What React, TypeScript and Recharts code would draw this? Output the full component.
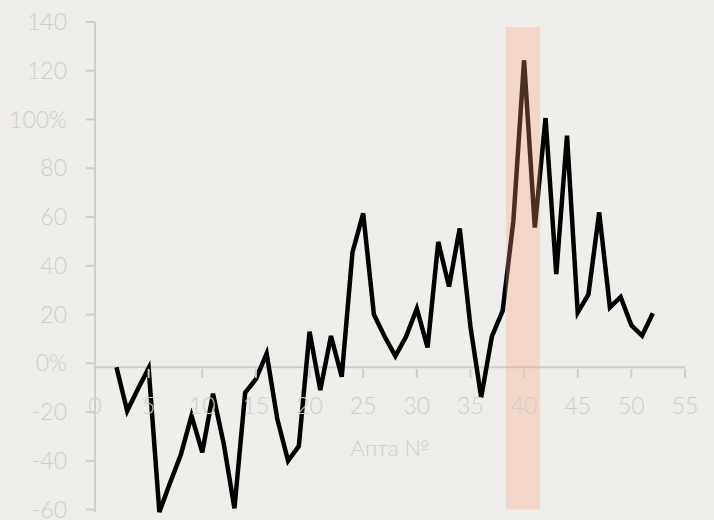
import { LineChart, Line, XAxis, YAxis, ReferenceArea, ReferenceLine } from 'recharts'

const weeks = [
  2, 3, 4, 5, 6, 7, 8, 9, 10, 11, 12, 13, 14, 15, 16, 17, 18, 19, 20, 21, 22, 23, 24, 25, 26,
  27, 28, 29, 30, 31, 32, 33, 34, 35, 36, 37, 38, 39, 40, 41, 42, 43, 44, 45, 46, 47, 48, 49,
  50, 51, 52,
]
const change = [
  -1.6, -19.5, -10.5, -2, -61, -49, -37.5, -21.5, -36.5, -12.5, -33, -59.5, -12, -6.5, 4, -23,
  -40, -34, 13, -11, 11.2, -5.5, 45.5, 61.5, 20, 11, 3, 11, 22.4, 6.5, 49.8, 31.5, 55.3, 15, -14,
  11, 21.5, 58.4, 124.3, 55.7, 100.6, 36.6, 93.4, 20.8, 28.3, 61.9, 22.9, 27.2, 15.6, 11.3, 20.5,
]
const xTicks = [0, 5, 10, 15, 20, 25, 30, 35, 40, 45, 50, 55]
const yTicks = [-60, -40, -20, 0, 20, 40, 60, 80, 100, 120, 140]
const yTickLabels = ['-60', '-40', '-20', '0%', '20', '40', '60', '80', '100%', '120', '140']
const highlight = { from: 38.3, to: 41.5, top: 138 }
const axisCross = -1.6
const axisTitle = 'Апта №'

const data = weeks.map((w, i) => ({ week: w, value: change[i] }))

const W = 714
const H = 520
const M = { top: 22, right: 29, left: 0, bottom: 0 }
const X_H = 8
const Y_W = 95
const GREY = '#cecdca'
const FONT = 'Lato, "DejaVu Sans", sans-serif'

const plotLeft = M.left + Y_W
const plotW = W - M.right - plotLeft
const plotH = H - M.top - M.bottom - X_H
const axisPy = M.top + ((140 - axisCross) / 200) * plotH

function XTick({ x, payload }: any) {
  const len = payload.value === 0 ? 18 : 9
  return (
    <g>
      <line x1={x} x2={x} y1={axisPy} y2={axisPy + len} stroke={GREY} strokeWidth={2} />
      <text x={x} y={axisPy + 45} textAnchor="middle" fill={GREY} fontSize={23} fontWeight={300} fontFamily={FONT}>
        {payload.value}
      </text>
    </g>
  )
}

function AxisTitle() {
  return (
    <text x={plotLeft + plotW / 2} y={axisPy + 87} textAnchor="middle" fill={GREY} fontSize={22} fontWeight={300} fontFamily={FONT}>
      {axisTitle}
    </text>
  )
}

export default function App() {
  return (
    <div style={{ position: 'absolute', left: 0, top: 0, width: W, height: H, background: '#efeeea' }}>
      <LineChart width={W} height={H} data={data} margin={M}>
        <XAxis
          dataKey="week"
          type="number"
          domain={[0, 55]}
          ticks={xTicks}
          height={X_H}
          axisLine={false}
          tickLine={false}
          tick={<XTick />}
          interval={0}
          label={<AxisTitle />}
        />
        <YAxis
          type="number"
          domain={[-60, 140]}
          ticks={yTicks}
          width={Y_W}
          interval={0}
          tickSize={9}
          tickMargin={19}
          axisLine={{ stroke: GREY, strokeWidth: 2 }}
          tickLine={{ stroke: GREY, strokeWidth: 2 }}
          tick={{ fill: GREY, fontSize: 23, fontWeight: 300, fontFamily: FONT }}
          tickFormatter={(v: number) => yTickLabels[yTicks.indexOf(v)]}
        />
        <ReferenceLine y={axisCross} stroke={GREY} strokeWidth={2} />
        <Line
          dataKey="value"
          stroke="#000"
          strokeWidth={4.5}
          dot={false}
          isAnimationActive={false}
        />
        <ReferenceArea
          x1={highlight.from}
          x2={highlight.to}
          y1={-60}
          y2={highlight.top}
          fill="#fc9d74"
          fillOpacity={0.29}
          stroke="none"
          ifOverflow="visible"
          zIndex={700}
        />
      </LineChart>
    </div>
  )
}
